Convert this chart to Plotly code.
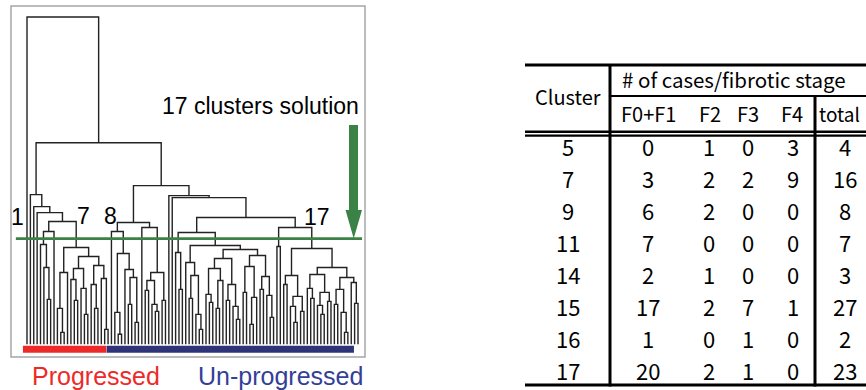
import plotly.graph_objects as go

W, H = 866, 390

# ---------------------------------------------------------------------------
# Dendrogram: sub-trees of the 17 clusters (linkage distance, left, right);
# L marks a single case.
# ---------------------------------------------------------------------------
L = 0
clu1 = L
clu2 = L
clu3 = L
clu4 = L
clu5 = [10.0, L, [7.7, L, [4.5, L, L]]]
clu6 = L
clu7 = [9.7, [7.2, [3.6, L, [1.2, L, L]], L],
        [8.8, [7.6, [6.5, L, [4.4, L, L]], [5.6, L, [3.0, L, L]]],
              [7.9, [6.0, L, [3.6, L, L]], [6.6, L, [1.5, L, L]]]]]
clu8 = L
clu9 = [9.1, [3.2, L, [1.0, L, L]], [7.5, L, [6.7, [4.0, L, L], [2.2, L, L]]]]
clu10 = L
clu11 = [7.2, [6.4, [5.4, L, L], [4.0, L, [3.3, L, L]]], [4.4, L, L]]
clu12 = L
clu13 = L
clu14 = [9.2, L, [5.5, L, L]]
clu15 = [9.9, [8.2, L, [6.9, [4.6, L, L], [3.0, L, [1.5, L, L]]]],
         [9.5, [8.6, [7.6, [5.0, L, [4.2, L, L]], [6.4, [3.6, L, L], L]],
                     [6.0, [4.4, L, L], [3.8, L, [2.5, L, L]]]],
               [8.9, [7.8, [5.2, L, L], [4.7, [2.0, L, L], L]],
                     [6.8, [5.5, L, L], [4.9, L, [2.7, L, L]]]]]]
clu16 = [9.8, L, L]
clu17 = [9.6, [6.9, [6.0, L, L], [4.8, [3.8, L, [2.2, L, L]], [3.3, L, L]]],
         [7.7, [7.0, [5.6, L, [4.6, L, L]], [5.2, [3.9, L, [3.0, L, L]], [4.3, L, L]]],
               [6.7, [5.5, [4.0, L, L], [3.2, L, [1.2, L, L]]], [6.2, L, [4.1, L, L]]]]]

# merges above the cut
progressed = [15.0, clu2, [13.8, clu3, [13.2, clu4, [12.3, [11.3, clu5, clu6], clu7]]]]
unprogressed = [15.9,
                [12.2, [11.3, clu8, clu9], [11.7, clu10, clu11]],
                [14.9, clu12, [14.7, clu13, [12.7, [11.2, clu14, clu15], [11.7, clu16, clu17]]]]]
tree = [32.8, clu1, [20.2, progressed, unprogressed]]

cut_height = 10.6
progressed_clusters = [clu1, clu2, clu3, clu4, clu5, clu6, clu7]

# ---------------------------------------------------------------------------
# Table: cases per fibrotic stage
# ---------------------------------------------------------------------------
clusters = ["5", "7", "9", "11", "14", "15", "16", "17"]
f0_f1 = [0, 3, 6, 7, 2, 17, 1, 20]
f2 = [1, 2, 2, 0, 1, 2, 0, 2]
f3 = [0, 2, 0, 0, 0, 7, 1, 1]
f4 = [3, 9, 0, 0, 0, 1, 0, 0]
total = [4, 16, 8, 7, 3, 27, 2, 23]
stage_labels = ["F0+F1", "F2", "F3", "F4", "total"]


def count_leaves(node):
    if not isinstance(node, list):
        return 1
    return count_leaves(node[1]) + count_leaves(node[2])


# walk the tree and collect the U-shaped links
xs, ys = [], []
_next_leaf = [0]


def layout(node):
    if not isinstance(node, list):
        x = _next_leaf[0]
        _next_leaf[0] += 1
        return x, 0.0
    h, left, right = node
    xa, ha = layout(left)
    xb, hb = layout(right)
    xs.extend([xa, xa, xb, xb, None])
    ys.extend([ha, h, h, hb, None])
    return (xa + xb) / 2.0, h


layout(tree)
n_leaves = count_leaves(tree)
n_prog = sum(count_leaves(c) for c in progressed_clusters)


def px(x, y):
    """pixel position -> paper coordinates"""
    return x / W, 1 - y / H


# axis geometry of the dendrogram panel
box = (11, 6, 365, 357)            # left, top, right, bottom (px)
leaf_first_px, leaf_last_px = 27, 358
step = (leaf_last_px - leaf_first_px) / (n_leaves - 1)
x_range = [(box[0] - leaf_first_px) / step, (box[2] - leaf_first_px) / step]
base_px, root_px = 344.3, 17
unit = (base_px - root_px) / tree[0]
y_range = [-(box[3] - base_px) / unit, tree[0] + (root_px - box[1]) / unit]

fig = go.Figure()
fig.add_trace(go.Scatter(x=xs, y=ys, mode="lines",
                         line=dict(color="#222222", width=1.4),
                         hoverinfo="skip", showlegend=False))

GREEN = "#3a8245"
RED = "#ec2a2a"
NAVY = "#2f3479"

shapes = []
# panel frame
x0, y0 = px(box[0], box[1])
x1, y1 = px(box[2], box[3])
shapes.append(dict(type="rect", xref="paper", yref="paper", x0=x0, y0=y1, x1=x1, y1=y0,
                   line=dict(color="#a6a6a6", width=1.5), fillcolor="rgba(0,0,0,0)"))
# progressed / un-progressed bars under the leaves
shapes.append(dict(type="rect", xref="x", yref="y", x0=-1.2, x1=n_prog - 1.5,
                   y0=-0.85, y1=-0.15, line=dict(width=0), fillcolor=RED))
shapes.append(dict(type="rect", xref="x", yref="y", x0=n_prog - 1.4, x1=n_leaves - 2.2,
                   y0=-0.85, y1=-0.15, line=dict(width=0), fillcolor=NAVY))
# cut line
shapes.append(dict(type="line", xref="x", yref="y", x0=-3.3, x1=n_leaves + 0.2,
                   y0=cut_height, y1=cut_height, line=dict(color=GREEN, width=2.8)))
# arrow down to the cut
arrow_pts = [(349, 125), (358, 125), (358, 210), (362, 210), (353.7, 238.5),
             (345.5, 210), (349, 210)]
path = "M " + " L ".join("%.5f,%.5f" % px(a, b) for a, b in arrow_pts) + " Z"
shapes.append(dict(type="path", xref="paper", yref="paper", path=path,
                   fillcolor=GREEN, line=dict(width=0)))


# table rules
def hline(y, xa, xb, w):
    (pa, py), (pb, _) = px(xa, y), px(xb, y)
    shapes.append(dict(type="line", xref="paper", yref="paper", x0=pa, x1=pb, y0=py, y1=py,
                       line=dict(color="black", width=w)))


def vline(x, ya, yb, w):
    (pxx, pa), (_, pb) = px(x, ya), px(x, yb)
    shapes.append(dict(type="line", xref="paper", yref="paper", x0=pxx, x1=pxx, y0=pa, y1=pb,
                       line=dict(color="black", width=w)))


hline(65, 525, 866, 3)
hline(96, 610, 866, 2)
hline(131.8, 525, 866, 2.4)
hline(135.6, 525, 866, 2.2)
hline(385, 525, 866, 3)
vline(610, 64, 386.5, 3)
vline(815, 95, 386.5, 3)

annotations = []
ARIAL = "Liberation Sans, Arial, sans-serif"
GOTHIC = "Noto Sans CJK JP, Liberation Sans, sans-serif"


def text(s, x, y, size, color="black", family=ARIAL):
    ax, ay = px(x, y)
    annotations.append(dict(x=ax, y=ay, xref="paper", yref="paper", text=s, showarrow=False,
                            xanchor="center", yanchor="middle",
                            font=dict(family=family, size=size, color=color)))


text("17 clusters solution", 260.5, 106, 23)
text("1", 17.3, 216.5, 23)
text("7", 83.3, 215.5, 23)
text("8", 110, 216, 23)
text("17", 316.7, 216.5, 23)
text("Progressed", 95.5, 376, 25, RED)
text("Un-progressed", 280, 376, 25, "#333f98")

# table text
text("Cluster", 568, 96, 20, family=GOTHIC)
text("# of cases/fibrotic stage", 734, 79, 20.5, family=GOTHIC)
head_x = [648, 710, 747.5, 792, 839]
head_size = [20, 20, 20, 20, 19]
for s, x, fs in zip(stage_labels, head_x, head_size):
    text(s, x, 113.5, fs, family=GOTHIC)
col_x = [568, 648, 709, 747.5, 792.5, 845]
row0, row_step = 145.5, 32.1
for k, c in enumerate(clusters):
    y = row0 + k * row_step
    vals = [c, f0_f1[k], f2[k], f3[k], f4[k], total[k]]
    for v, x in zip(vals, col_x):
        text(str(v), x, y, 22, family=GOTHIC)

fig.update_layout(
    width=W, height=H, margin=dict(l=0, r=0, t=0, b=0),
    paper_bgcolor="white", plot_bgcolor="rgba(0,0,0,0)",
    xaxis=dict(domain=[box[0] / W, box[2] / W], range=x_range, visible=False, fixedrange=True),
    yaxis=dict(domain=[1 - box[3] / H, 1 - box[1] / H], range=y_range, visible=False, fixedrange=True),
    shapes=shapes, annotations=annotations, showlegend=False,
)
fig.write_html("out.html")
